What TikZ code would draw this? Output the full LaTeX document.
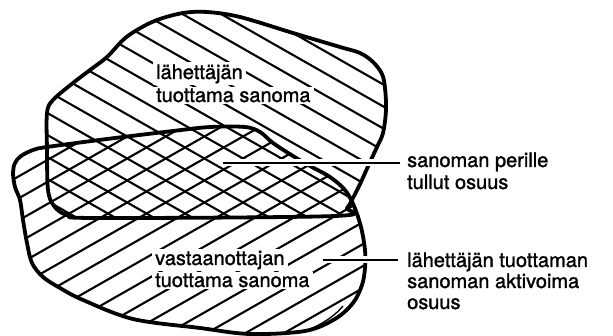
\documentclass[tikz,border=0pt]{standalone}
\usepackage{fontspec}
\setmainfont{TeX Gyre Heros}
\newfontfamily\lblfont{TeX Gyre Heros}[FakeBold=1.4]
\begin{document}
\begin{tikzpicture}[x=1pt,y=-1pt,
  outline/.style={line width=3.8pt,line join=round},
  hatch/.style={line width=2.1pt},
  leader/.style={line width=1.6pt},
  halo/.style={white,line width=7pt},
  lbl/.style={font=\lblfont\fontsize{20}{22}\selectfont,anchor=base west,inner xsep=3pt,inner ysep=2pt,fill=white},
  rlbl/.style={font=\lblfont\fontsize{20}{22}\selectfont,anchor=base west,inner sep=0pt}]
\useasboundingbox (0,0) rectangle (613,336);
\def\uppershape{plot[smooth cycle,tension=0.55] coordinates {(183,13) (207,12) (240,17) (293,33) (340,47) (360,53) (373,62) (382,74) (385,88) (386,110) (383,133) (377,147) (370,162) (361,182) (354,196) (347,208) (335,216) (97,218) (67,215) (54,206) (48,190) (47,150) (47,113) (53,100) (73,83) (90,70) (107,57) (123,40) (137,30) (157,20)}}
\def\lowershape{plot[smooth cycle,tension=0.55] coordinates {(47,147) (107,139) (173,131) (210,127) (245,127) (260,132) (273,143) (293,156) (310,166) (330,177) (345,190) (354,206) (361,227) (365,250) (365,268) (362,285) (353,303) (335,319) (305,331) (250,334) (200,328) (133,319) (83,300) (60,288) (43,277) (32,263) (27,243) (23,220) (20,200) (15,187) (13,173) (15,163) (21,156) (33,150)}}
% hatching
\begin{scope}
  \clip \uppershape;
  \foreach \k in {-20,...,20}
    \draw[hatch] (0,{-46+22*\k}) -- (613,{-46+22*\k+0.57*613});
\end{scope}
\begin{scope}
  \clip \lowershape;
  \foreach \k in {-26,...,8}
    \draw[hatch] (0,{473+22*\k}) -- (613,{473+22*\k-0.57*613});
\end{scope}
% outlines
\draw[outline] \uppershape;
\draw[outline] \lowershape;
\draw[line width=1.4pt] (343,306) .. controls (334,317) and (318,327) .. (302,332);
% leaders
\coordinate (l1s) at (223,163);
\coordinate (l1e) at (400,163);
\coordinate (l2s) at (323,260);
\coordinate (l2e) at (398,260);
\draw[halo] (l1s) -- (l1e);
\draw[halo] (l2s) -- (l2e);
\draw[leader] (l1s) -- (l1e);
\draw[leader] (l2s) -- (l2e);
% labels
\node[lbl] (a1) at (153,79) {lähettäjän};
\node[lbl] (a2) at (153,102) {tuottama sanoma};
\node[lbl] (b1) at (152,265) {vastaanottajan};
\node[lbl] (b2) at (152,287) {tuottama sanoma};
\node[rlbl] (c1) at (407,167) {sanoman perille};
\node[rlbl] (c2) at (407,189) {tullut osuus};
\node[rlbl] (d1) at (407,267) {lähettäjän tuottaman};
\node[rlbl] (d2) at (407,288) {sanoman aktivoima};
\node[rlbl] (d3) at (407,309) {osuus};
\end{tikzpicture}
\end{document}
